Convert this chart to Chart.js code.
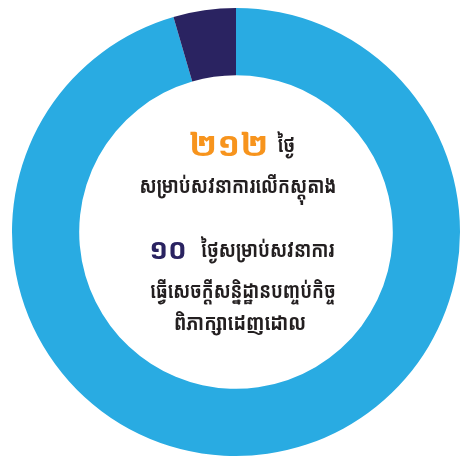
<!DOCTYPE html>
<html>
<head>
<meta charset="utf-8">
<script src="https://cdn.jsdelivr.net/npm/chart.js@4"></script>
<style>
  html, body { margin: 0; padding: 0; background: #fff; }
  #wrap { width: 461px; height: 457px; }
</style>
</head>
<body>
<div id="wrap"><canvas id="daysChart"></canvas></div>
<script>
// Hearing days
const categories = ["សម្រាប់សវនាការលើកស្តុតាង", "សម្រាប់សវនាការធ្វើសេចក្តីសន្និដ្ឋានបញ្ចប់កិច្ចពិភាក្សាដេញដោល"];
const days = [212, 10];
const colors = ["#29abe2", "#2a2361"];

const khmerFont = "'Noto Sans Khmer', 'Khmer OS', 'Noto Sans', sans-serif";

// draw a line made of parts, centred on cx (sx = horizontal squeeze)
function drawParts(ctx, parts, cx, y) {
    let total = 0;
    parts.forEach(p => {
        ctx.font = p.font;
        p.sx = p.sx || 1;
        p.w = ctx.measureText(p.text).width * p.sx;
        total += p.w + (p.gap || 0);
    });
    let x = cx - total / 2;
    parts.forEach(p => {
        ctx.save();
        ctx.font = p.font;
        ctx.fillStyle = p.color;
        ctx.translate(x, y);
        ctx.scale(p.sx, 1);
        ctx.fillText(p.text, 0, 0);
        ctx.restore();
        x += p.w + (p.gap || 0);
    });
}

const centerText = {
    id: "centerText",
    afterDraw(chart) {
        const ctx = chart.ctx;
        const cx = 240;
        const body = "bold 22px " + khmerFont;
        ctx.save();
        ctx.textBaseline = "middle";
        ctx.textAlign = "left";
        drawParts(ctx, [
            { text: "២១២", font: "bold 34px " + khmerFont, color: "#f7941d", gap: 9 },
            { text: "ថ្ងៃ", font: body, color: "#231f20", sx: 0.8 }
        ], cx + 2, 146);
        drawParts(ctx, [
            { text: "សម្រាប់សវនាការលើកស្តុតាង", font: body, color: "#231f20", sx: 0.8 }
        ], cx - 2, 187);
        drawParts(ctx, [
            { text: "១០", font: "bold 28px " + khmerFont, color: "#2a2361", gap: 14 },
            { text: "ថ្ងៃសម្រាប់សវនាការ", font: body, color: "#231f20", sx: 0.8 }
        ], cx + 2, 251);
        drawParts(ctx, [
            { text: "ធ្វើសេចក្តីសន្និដ្ឋានបញ្ចប់កិច្ច", font: body, color: "#231f20", sx: 0.79 }
        ], cx + 3, 292);
        drawParts(ctx, [
            { text: "ពិភាក្សាដេញដោល", font: body, color: "#231f20", sx: 0.84 }
        ], cx, 324);
        ctx.restore();
    }
};

new Chart(document.getElementById("daysChart"), {
    type: "doughnut",
    data: {
        labels: categories,
        datasets: [{
            data: days,
            backgroundColor: colors,
            borderWidth: 0
        }]
    },
    options: {
        responsive: true,
        maintainAspectRatio: false,
        animation: false,
        cutout: "70%",
        layout: { padding: { left: 12, right: 1, top: 8, bottom: 1 } },
        plugins: {
            legend: { display: false },
            tooltip: { enabled: false }
        }
    },
    plugins: [centerText]
});
</script>
</body>
</html>
